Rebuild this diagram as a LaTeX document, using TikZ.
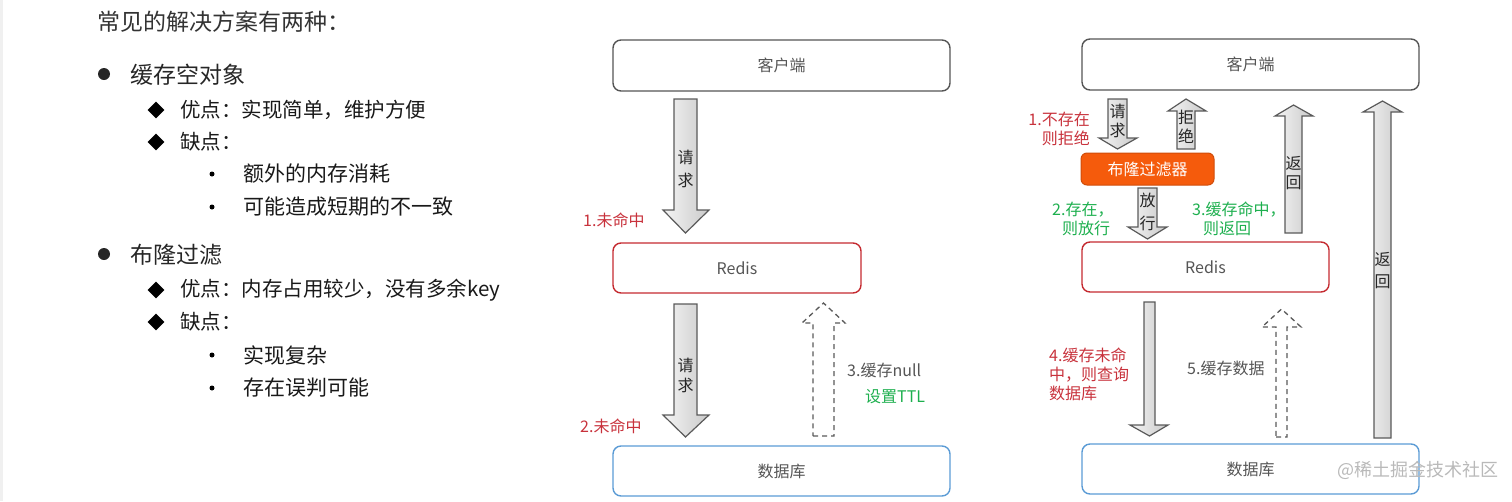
\documentclass[tikz,border=0pt]{standalone}
\usepackage{fontspec}
\setmainfont{Noto Sans CJK SC}
\usetikzlibrary{shapes.geometric}
\definecolor{txt}{HTML}{333333}
\definecolor{boxtxt}{HTML}{555555}
\definecolor{redb}{HTML}{C42A30}
\definecolor{redt}{HTML}{C8323C}
\definecolor{greent}{HTML}{1DAF4E}
\definecolor{blueb}{HTML}{5B9BD5}
\definecolor{orangef}{HTML}{F55B0C}
\definecolor{arrb}{HTML}{5A5A5A}
\newcommand\blockarrow[7]{%
  \path[arrowfill] (#1,#3) -- (#2,#3) -- (#2,#4) -- (#6,#4) -- ({(#1+#2)/2},#7) -- (#5,#4) -- (#1,#4) -- cycle;}
\newcommand\dasharrow[7]{%
  \path[dasharr] (#1,#3) -- (#2,#3) -- (#2,#4) -- (#6,#4) -- ({(#1+#2)/2},#7) -- (#5,#4) -- (#1,#4) -- cycle;}
\begin{document}
\begin{tikzpicture}[x=1pt,y=-1pt,
  box/.style={draw, rounded corners=8pt, line width=1.4pt, text=boxtxt, font=\fontsize{16}{19}\selectfont, inner sep=0pt},
  arrowfill/.style={draw=arrb, line width=1.2pt, left color=gray!8, right color=gray!42},
  dasharr/.style={draw=arrb, line width=1.3pt, fill=white, dash pattern=on 5pt off 4pt},
  vtxt/.style={align=center, text=black!85, inner sep=0pt},
  ann/.style={font=\fontsize{16}{19}\selectfont, inner sep=0pt},
  title/.style={font=\fontsize{23}{26}\selectfont, text=txt, anchor=west, inner sep=0pt},
  lone/.style={font=\fontsize{23}{26}\selectfont, text=black!85, anchor=west, inner sep=0pt},
  ltwo/.style={font=\fontsize{20.5}{24}\selectfont, text=black!90, anchor=west, inner sep=0pt},
  lthree/.style={font=\fontsize{21}{25}\selectfont, text=black!90, anchor=west, inner sep=0pt},
  dotbig/.style={circle, fill=black!85, minimum size=12pt, inner sep=0pt},
  diam/.style={diamond, fill=black, minimum size=17pt, inner sep=0pt},
  dotsmall/.style={circle, fill=black, minimum size=5pt, inner sep=0pt}]
\useasboundingbox (0,0) rectangle (1512,501);
\fill[gray!12] (0,0) rectangle (3,501);

% ---------- left text ----------
\node[title] (t0) at (97,22) {常见的解决方案有两种：};
\node[dotbig] (b1) at (104,74) {};
\node[lone] (t1) at (130,75) {缓存空对象};
\node[diam] (d1) at (156,110) {};
\node[ltwo] (t2) at (180,110) {优点：实现简单，维护方便};
\node[diam] (d2) at (156,142) {};
\node[ltwo] (t3) at (180,142) {缺点：};
\node[dotsmall] (s1) at (212,174) {};
\node[lthree] (t4) at (243,174) {额外的内存消耗};
\node[dotsmall] (s2) at (212,207) {};
\node[lthree] (t5) at (243,207) {可能造成短期的不一致};
\node[dotbig] (b2) at (104,254) {};
\node[lone] (t6) at (130,255) {布隆过滤};
\node[diam] (d3) at (156,290) {};
\node[ltwo] (t7) at (180,290) {优点：内存占用较少，没有多余key};
\node[diam] (d4) at (156,322) {};
\node[ltwo] (t8) at (180,322) {缺点：};
\node[dotsmall] (s3) at (212,355) {};
\node[lthree] (t9) at (243,355) {实现复杂};
\node[dotsmall] (s4) at (212,388) {};
\node[lthree] (t10) at (243,388) {存在误判可能};

% ---------- middle diagram ----------
\node[box, draw=boxtxt, minimum width=337pt, minimum height=51pt] (mc) at (781.5,65.5) {客户端};
\node[box, draw=redb, minimum width=248pt, minimum height=50pt] (mr) at (737,268) {Redis};
\node[box, draw=blueb, minimum width=337pt, minimum height=50pt] (md) at (781.5,471) {数据库};

\blockarrow{674}{697}{99}{210}{663}{709}{233}
\node[vtxt, font=\fontsize{16}{23}\selectfont] (ma1) at (685.5,169) {请\\求};
\node[ann, text=redt, anchor=west] (mn1) at (583,220) {1.未命中};

\blockarrow{674}{697}{304}{415}{663}{709}{437}
\node[vtxt, font=\fontsize{16}{20}\selectfont] (ma2) at (685.5,375) {请\\求};
\node[ann, text=redt, anchor=west] (mn2) at (580,426) {2.未命中};

\dasharrow{813}{834}{436}{323}{802}{845}{303}
\node[ann, text=boxtxt, anchor=west] (mn3) at (847,370) {3.缓存null};
\node[ann, text=greent, anchor=west] (mn4) at (865,397) {设置TTL};

% ---------- right diagram ----------
\node[box, draw=boxtxt, minimum width=337pt, minimum height=51pt] (rc) at (1250.5,64.5) {客户端};
\node[box, draw=orangef!85!black, fill=orangef, text=white, rounded corners=6pt, line width=1pt, minimum width=133pt, minimum height=32pt] (rf) at (1147.5,169) {布隆过滤器};
\node[box, draw=redb, minimum width=247pt, minimum height=50pt] (rr) at (1205.5,267) {Redis};
\node[box, draw=blueb, minimum width=337pt, minimum height=50pt] (rd) at (1250.5,469) {数据库};

\blockarrow{1108}{1127}{99}{138}{1099}{1137}{149}
\node[vtxt, font=\fontsize{16}{19}\selectfont] (ra1) at (1117.5,121) {请\\求};
\blockarrow{1177}{1195}{149}{111}{1168}{1206}{99}
\node[vtxt, font=\fontsize{16}{19}\selectfont] (ra2) at (1186,127) {拒\\绝};
\node[ann, text=redt, anchor=east] (rn1a) at (1090,119) {1.不存在};
\node[ann, text=redt, anchor=east] (rn1b) at (1090,138) {则拒绝};

\blockarrow{1138}{1157}{188}{227}{1128}{1167}{239}
\node[vtxt, font=\fontsize{16}{23}\selectfont] (ra3) at (1147.5,212) {放\\行};
\node[ann, text=greent, anchor=west] (rn2a) at (1052,210) {2.存在，};
\node[ann, text=greent, anchor=west] (rn2b) at (1062,228) {则放行};

\blockarrow{1285}{1302}{233}{116}{1275}{1313}{105}
\node[vtxt, font=\fontsize{16}{19}\selectfont] (ra4) at (1293.5,173) {返\\回};
\node[ann, text=greent, anchor=west] (rn3a) at (1192,210) {3.缓存命中，};
\node[ann, text=greent, anchor=west] (rn3b) at (1203,228) {则返回};

\blockarrow{1374}{1391}{438}{112}{1363}{1402}{101}
\node[vtxt, font=\fontsize{16}{22}\selectfont] (ra5) at (1382.5,271) {返\\回};

\blockarrow{1144}{1155}{302}{425}{1130}{1168}{436}
\node[ann, text=redt, anchor=west, align=left, font=\fontsize{16}{19}\selectfont] (rn4) at (1049,374) {4.缓存未命\\中，则查询\\数据库};

\dasharrow{1276}{1287}{437}{327}{1262}{1301}{309}
\node[ann, text=boxtxt, anchor=west] (rn5) at (1187,368) {5.缓存数据};

\node[ann, text=gray!55, anchor=west, font=\fontsize{18}{20}\selectfont] (wm) at (1337,470) {@稀土掘金技术社区};
\end{tikzpicture}
\end{document}
